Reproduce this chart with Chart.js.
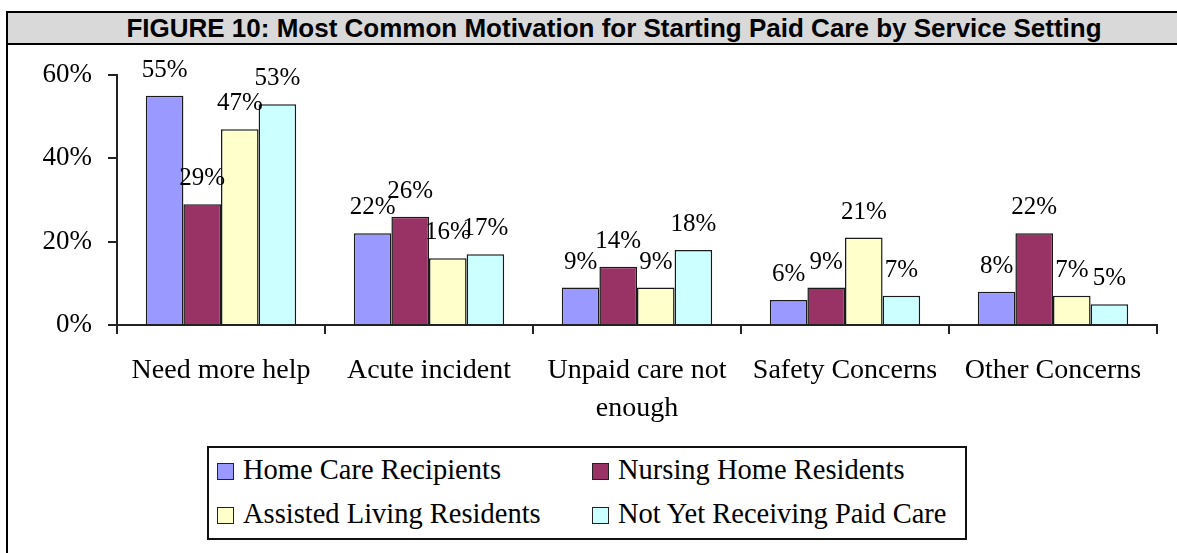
<!DOCTYPE html>
<html lang="en">
<head>
<meta charset="UTF-8" />
<title>Figure 10</title>
<script src="https://cdn.jsdelivr.net/npm/chart.js"></script>
<style>
  html, body { margin: 0; padding: 0; background: #fff; width: 1177px; height: 553px; overflow: hidden; position: relative; }
  .frame { position: absolute; left: 6px; top: 11px; width: 1212px; height: 600px; border-left: 2px solid #000; border-top: 2px solid #000; }
  .title { height: 30px; line-height: 30px; background: #d9d9d9; border-bottom: 2px solid #000; text-align: center;
           font: bold 26px "Liberation Sans", Arial, sans-serif; color: #000; white-space: nowrap; }
  canvas { position: absolute; left: 0; top: 0; }
  .legend { position: absolute; left: 207px; top: 446px; width: 760px; height: 94px; box-sizing: border-box; border: 2px solid #111; background: #fff; }
  .legend .item { position: absolute; font: 28.5px "Liberation Serif", "Times New Roman", serif; line-height: 32px; color: #000; white-space: nowrap; }
  .legend .box { display: inline-block; width: 15px; height: 15px; border: 1.5px solid #222; margin-right: 9px; vertical-align: -1px; }
</style>
</head>
<body>
<div class="frame">
  <div class="title">FIGURE 10: Most Common Motivation for Starting Paid Care by Service Setting</div>
</div>
<canvas id="chart" width="1177" height="553"></canvas>
<div class="legend" id="legend"></div>
<script>
const categories = ['Need more help', 'Acute incident', ['Unpaid care not', 'enough'], 'Safety Concerns', 'Other Concerns'];
const seriesNames = ['Home Care Recipients', 'Nursing Home Residents', 'Assisted Living Residents', 'Not Yet Receiving Paid Care'];
const homeCare = [55, 22, 9, 6, 8];
const nursingHome = [29, 26, 14, 9, 22];
const assistedLiving = [47, 16, 9, 21, 7];
const notYetPaid = [53, 17, 18, 7, 5];
const yTicks = [0, 20, 40, 60];

const colors = ['#9999ff', '#993366', '#ffffcc', '#ccffff'];
const serif = '"Liberation Serif", "Times New Roman", serif';

const barLabels = {
  id: 'barLabels',
  afterDatasetsDraw(chart) {
    const ctx = chart.ctx;
    ctx.save();
    ctx.font = `25px ${serif}`;
    ctx.fillStyle = '#000';
    ctx.textAlign = 'center';
    ctx.textBaseline = 'alphabetic';
    chart.data.datasets.forEach((ds, i) => {
      chart.getDatasetMeta(i).data.forEach((bar, j) => {
        ctx.fillText(ds.data[j] + '%', bar.x, bar.y - 19);
      });
    });
    ctx.restore();
  }
};

const seriesData = [homeCare, nursingHome, assistedLiving, notYetPaid];

const chart = new Chart(document.getElementById('chart'), {
  type: 'bar',
  data: {
    labels: categories,
    datasets: seriesNames.map((name, i) => ({
      label: name,
      data: seriesData[i],
      backgroundColor: colors[i],
      borderColor: '#1a1a1a',
      borderWidth: 1.5,
      categoryPercentage: 0.723,
      barPercentage: 1.0
    }))
  },
  options: {
    responsive: false,
    animation: false,
    layout: { padding: { left: 0, top: 75, right: 20, bottom: 128 } },
    plugins: { legend: { display: false }, tooltip: { enabled: false } },
    scales: {
      x: {
        grid: { drawOnChartArea: false, tickLength: 9, color: '#222', lineWidth: 2 },
        border: { color: '#222', width: 2 },
        ticks: { color: '#000', padding: 17, maxRotation: 0, autoSkip: false, font: { family: serif, size: 28, lineHeight: 1.37 } },
        afterFit(scale) { scale.height = 100; }
      },
      y: {
        min: 0,
        max: 60,
        afterBuildTicks(scale) { scale.ticks = yTicks.map(v => ({ value: v })); },
        grid: { drawOnChartArea: false, tickLength: 9, color: '#222', lineWidth: 2 },
        border: { color: '#222', width: 2 },
        ticks: { color: '#000', padding: 16, font: { family: serif, size: 27 }, callback: v => v + '%' },
        afterFit(scale) { scale.width = 117; }
      }
    }
  },
  plugins: [barLabels]
});

const legend = document.getElementById('legend');
chart.data.datasets.forEach((ds, i) => {
  const item = document.createElement('div');
  item.className = 'item';
  item.style.left = (8 + (i % 2) * 375) + 'px';
  item.style.top = (6 + Math.floor(i / 2) * 44) + 'px';
  item.innerHTML = `<span class="box" style="background:${ds.backgroundColor}"></span>${ds.label}`;
  legend.appendChild(item);
});
</script>
</body>
</html>
